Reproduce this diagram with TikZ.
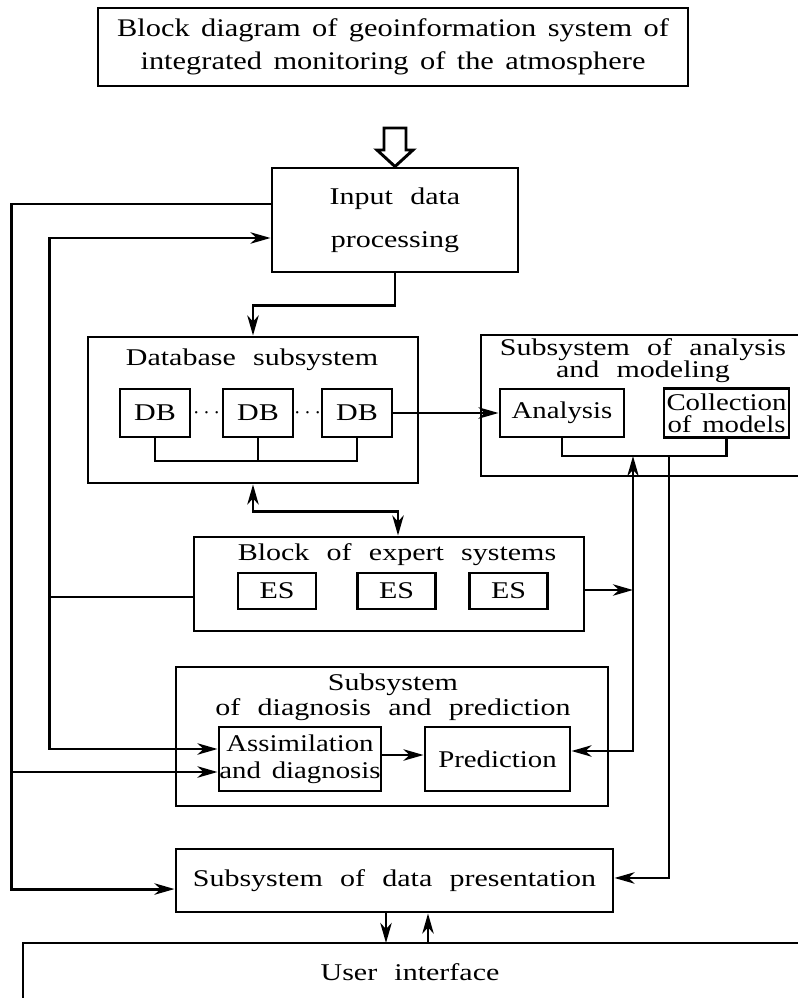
\documentclass[tikz,border=0pt]{standalone}
\usepackage{fontspec}
\setmainfont{Liberation Serif}
\newfontfamily\bodyfont[FakeStretch=1.25,WordSpace=2.3]{Liberation Serif}
\newfontfamily\innerfont[FakeStretch=1.2,WordSpace=1.1]{Liberation Serif}
\newfontfamily\titlefont[FakeStretch=1.2,WordSpace=1.5]{Liberation Serif}
\usetikzlibrary{arrows.meta,calc}
\begin{document}
\begin{tikzpicture}[x=0.75pt,y=-0.75pt,
  line width=2.2pt,
  box/.style={draw, line width=2.2pt, inner sep=0pt, align=center,
    font=\bodyfont\fontsize{18}{20}\selectfont},
  inbox/.style={box, font=\innerfont\fontsize{18}{20}\selectfont},
  lbl/.style={inner sep=0pt, align=center,
    font=\bodyfont\fontsize{18}{16.5}\selectfont},
  arr/.style={-{Stealth[length=15pt,width=8.5pt,inset=4.5pt]}},
  dbl/.style={{Stealth[length=15pt,width=8.5pt,inset=4.5pt]}-{Stealth[length=15pt,width=8.5pt,inset=4.5pt]}}]
\useasboundingbox (0,0) rectangle (798,998);

% title
\node[draw, line width=2.2pt, inner sep=0pt, align=center, minimum width=442.5pt, minimum height=58.5pt,
  font=\titlefont\fontsize{19}{25}\selectfont] (title) at (393,47)
  {Block diagram of geoinformation system of\\integrated monitoring of the atmosphere};

% input
\node[box, minimum width=184.5pt, minimum height=78pt,
  font=\bodyfont\fontsize{18}{32}\selectfont] (input) at (395,220) {Input data\\processing};
\draw[line width=2.2pt, line join=miter, fill=white] (384,128) -- (406,128) -- (406,150) -- (413,150)
  -- (input.north) -- (377,150) -- (384,150) -- cycle;

% database subsystem
\node[box, minimum width=247.5pt, minimum height=109.5pt] (dbsub) at (253,410) {};
\node[lbl] (dbtitle) at (252,360) {Database subsystem};
\node[box, minimum width=52.5pt, minimum height=36pt] (db1) at (155,413) {DB};
\node[box, minimum width=52.5pt, minimum height=36pt] (db2) at (258,413) {DB};
\node[box, minimum width=52.5pt, minimum height=36pt] (db3) at (357,413) {DB};
\node[inner sep=0pt, font=\fontsize{18}{20}\selectfont] (dots1) at (206.5,413) {$\cdots$};
\node[inner sep=0pt, font=\fontsize{18}{20}\selectfont] (dots2) at (307.5,413) {$\cdots$};
\coordinate (dbbus) at (0,461);
\draw (db1.south) |- (db3.south |- dbbus) -- (db3.south);
\draw (db2.south) -- (db2.south |- dbbus);

% analysis subsystem
\node[box, minimum width=246.75pt, minimum height=105.75pt] (ansub) at (645.5,405.5) {};
\node[lbl] (antitle) at (643,361) {Subsystem of analysis\\and modeling};
\node[inbox, minimum width=93pt, minimum height=36pt] (analysis) at (562,413) {Analysis};
\node[inbox, minimum width=93.75pt, minimum height=36.75pt,
  font=\innerfont\fontsize{18}{16.5}\selectfont] (coll) at (726.5,413) {Collection\\of models};
\coordinate (abus) at (633,456);
\coordinate (abus2) at (669,456);
\draw (analysis.south) |- (coll.south |- abus) -- (coll.south);

% expert systems
\node[box, minimum width=292.5pt, minimum height=70.5pt] (expert) at (389,584) {};
\node[lbl] (extitle) at (397,555) {Block of expert systems};
\node[box, minimum width=58.5pt, minimum height=27pt] (es1) at (277,591) {ES};
\node[box, minimum width=58.5pt, minimum height=27pt] (es2) at (396.5,591) {ES};
\node[box, minimum width=58.5pt, minimum height=27pt] (es3) at (508.5,591) {ES};

% diagnosis and prediction
\node[box, minimum width=324pt, minimum height=104.25pt] (diag) at (392,736.5) {};
\node[lbl, font=\bodyfont\fontsize{18}{19}\selectfont] (diagtitle) at (393,697) {Subsystem\\of diagnosis and prediction};
\node[inbox, minimum width=121.5pt, minimum height=48pt] (assim) at (300,759) {Assimilation\\and diagnosis};
\node[inbox, minimum width=108.75pt, minimum height=48pt] (pred) at (497.5,759) {Prediction};

% presentation
\node[box, minimum width=327.75pt, minimum height=47.25pt] (pres) at (394.5,880.5) {Subsystem of data presentation};

% user interface
\coordinate (uiL) at (23,943);
\coordinate (ui1) at (386,943);
\coordinate (ui2) at (428,943);
\draw (23,1010) -- (uiL) -- (810,943);
\node[lbl] (ui) at (410,972) {User interface};

% connectors
\draw[arr] (input.south) -- ++(0,32) -| (dbsub.north);
\draw[arr] (db3.east) -- (db3.east -| analysis.west);
\draw[dbl] (dbsub.south) -- ++(0,27) -| ([xshift=6.75pt]expert.north);

\coordinate (j1) at (633,590);
\draw[arr] (expert.east |- j1) -- (j1);
\draw[arr] (j1) -- (abus);
\draw[arr] (j1) |- ([yshift=6pt]pred.east);
\draw[arr] (abus2) |- ([yshift=1.9pt]pres.east);

\draw[arr] ([yshift=12pt]input.west) -- ++(-259,0) |- ([yshift=-6.4pt]pres.west);
\draw[arr] ([yshift=-9.75pt]expert.west) -- ++(-143,0) |- ([yshift=-13.5pt]input.west);
\draw[arr] ([yshift=-9.75pt]expert.west) -- ++(-143,0) |- ([yshift=7.5pt]assim.west);
\coordinate (c1) at (13,772);
\draw[arr] (c1) -- ([yshift=-9.75pt]assim.west);
\draw[arr] ([yshift=3pt]assim.east) -- ([yshift=3pt]pred.west);

\draw[arr] (pres.south -| ui1) -- (ui1);
\draw[arr] (ui2) -- (pres.south -| ui2);
\end{tikzpicture}
\end{document}
